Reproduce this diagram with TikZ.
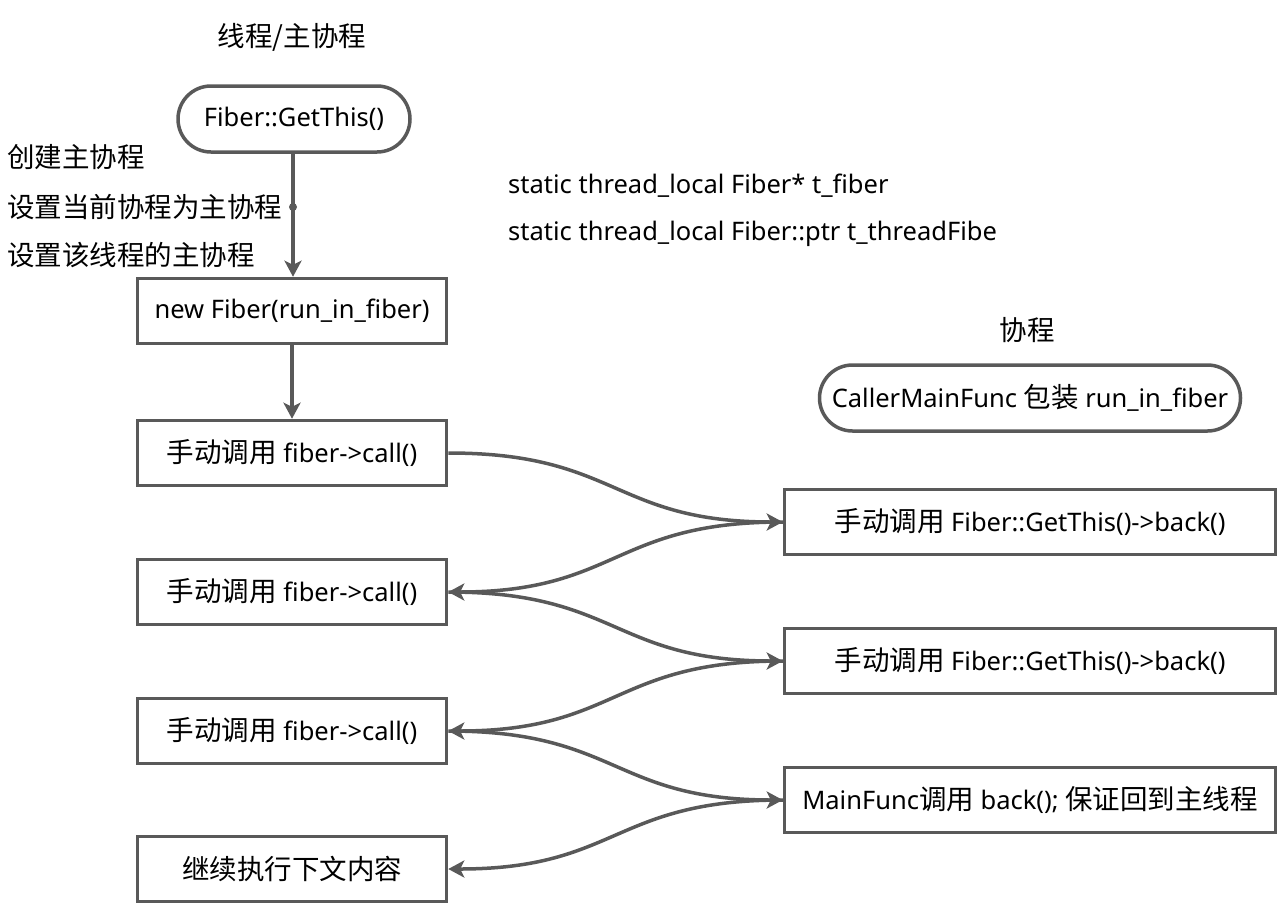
\documentclass[tikz,border=0pt]{standalone}
\usepackage{fontspec}
\setmainfont{Noto Sans}
\newfontfamily\cjk{Noto Sans CJK SC}
\usetikzlibrary{arrows.meta}
\definecolor{ln}{HTML}{595959}
\tikzset{
  txt/.style={font=\fontsize{25.5}{28}\selectfont, text=black, inner sep=0pt},
  box/.style={draw=ln, line width=3.5pt, rectangle, minimum height=65pt, font=\fontsize{25.5}{28}\selectfont, inner sep=0pt},
  pill/.style={draw=ln, line width=3.5pt, rounded corners=33pt, minimum height=66pt, font=\fontsize{25.5}{28}\selectfont, inner sep=0pt},
  conn/.style={draw=ln, line width=3.5pt, -{Stealth[length=16pt,width=17pt,inset=4pt]}},
}
\newcommand{\zh}[1]{{\cjk\fontsize{27.5}{30}\selectfont #1}}
\begin{document}
\begin{tikzpicture}[x=1pt,y=-1pt]
\useasboundingbox (0,0) rectangle (1287,908);
% titles
\node[txt] (t1) at (292,37) {\zh{线程/主协程}};
\node[txt] (t2) at (1027,330) {\zh{协程}};
% left column
\node[pill, minimum width=232pt] (gt) at (294,119) {Fiber::GetThis()};
\node[box, minimum width=309pt] (nf) at (292,311) {new Fiber(run\_in\_fiber)};
\node[box, minimum width=309pt] (c1) at (292,453) {\zh{手动调用} fiber->call()};
\node[box, minimum width=309pt] (c2) at (292,592) {\zh{手动调用} fiber->call()};
\node[box, minimum width=309pt] (c3) at (292,731) {\zh{手动调用} fiber->call()};
\node[box, minimum width=309pt] (c4) at (292,869) {\zh{继续执行下文内容}};
% left labels
\node[txt, anchor=west] (l1) at (7,157) {\zh{创建主协程}};
\node[txt, anchor=west] (l2) at (7,207) {\zh{设置当前协程为主协程}};
\node[txt, anchor=west] (l3) at (7,255) {\zh{设置该线程的主协程}};
% static vars
\node[txt, anchor=west] (s1) at (508,186) {static thread\_local Fiber* t\_fiber};
\node[txt, anchor=west] (s2) at (508,234) {static thread\_local Fiber::ptr t\_threadFibe};
% right column
\node[pill, minimum width=421pt] (cm) at (1030,398) {CallerMainFunc \zh{包装} run\_in\_fiber};
\node[box, minimum width=491pt] (b1) at (1030,522) {\zh{手动调用} Fiber::GetThis()->back()};
\node[box, minimum width=491pt] (b2) at (1030,661) {\zh{手动调用} Fiber::GetThis()->back()};
\node[box, minimum width=491pt] (b3) at (1030,800) {MainFunc\zh{调用} back(); \zh{保证回到主线程}};
% vertical arrows
\coordinate (dot) at (293,207);
\draw[conn] (gt.south -| dot) -- (nf.north -| dot);
\fill[ln] (dot) circle (4pt);
\draw[conn] (nf.south) -- (c1.north);
% curves
\draw[conn] (c1.east) .. controls +(170,0) and +(-170,0) .. (b1.west);
\draw[conn] (b1.west) .. controls +(-170,0) and +(170,0) .. (c2.east);
\draw[conn] (c2.east) .. controls +(170,0) and +(-170,0) .. (b2.west);
\draw[conn] (b2.west) .. controls +(-170,0) and +(170,0) .. (c3.east);
\draw[conn] (c3.east) .. controls +(170,0) and +(-170,0) .. (b3.west);
\draw[conn] (b3.west) .. controls +(-170,0) and +(170,0) .. (c4.east);
\end{tikzpicture}
\end{document}
